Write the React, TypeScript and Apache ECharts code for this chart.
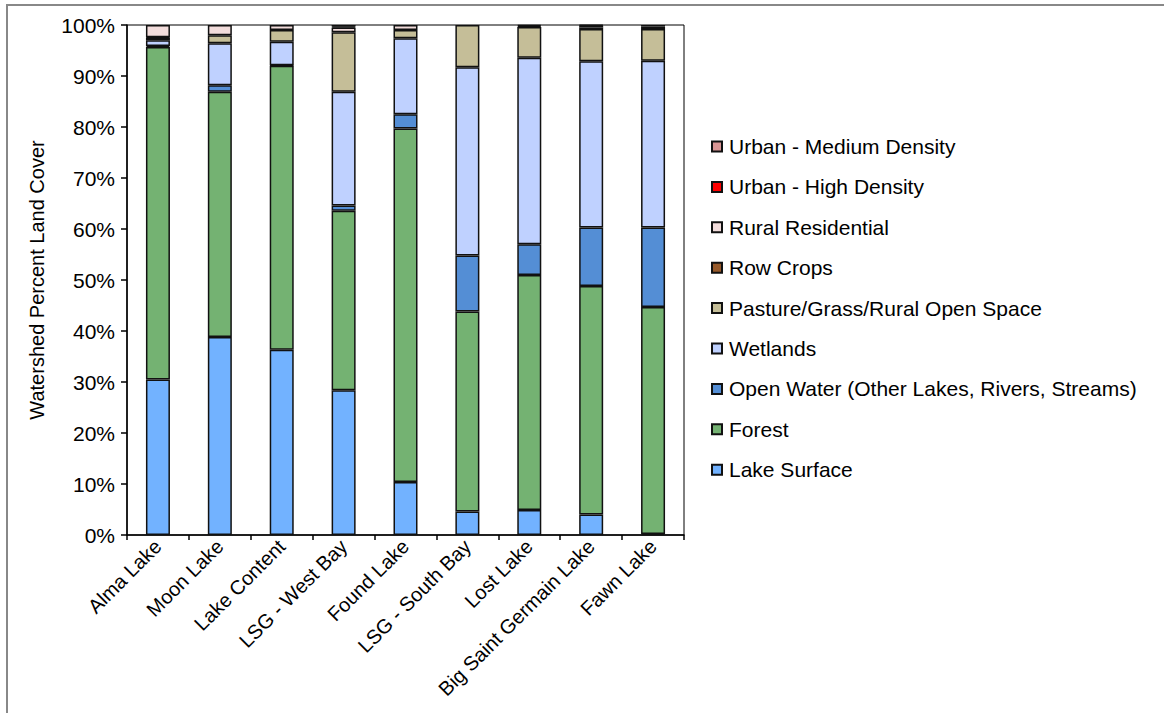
import React, { useEffect, useRef } from "react";
import * as echarts from "echarts";

const categories = [
  "Alma Lake",
  "Moon Lake",
  "Lake Content",
  "LSG - West Bay",
  "Found Lake",
  "LSG - South Bay",
  "Lost Lake",
  "Big Saint Germain Lake",
  "Fawn Lake",
];

const lakeSurface = [30.5, 38.8, 36.3, 28.4, 10.4, 4.6, 4.9, 4.0, 0.2];
const forest = [65.2, 48.1, 55.7, 35.2, 69.3, 39.2, 46.1, 44.8, 44.5];
const openWater = [0.2, 1.3, 0.1, 1.0, 2.8, 11.0, 6.0, 11.5, 15.6];
const wetlands = [1.1, 8.2, 4.6, 22.3, 14.9, 36.9, 36.6, 32.6, 32.7];
const pasture = [0.5, 1.6, 2.3, 11.7, 1.6, 8.3, 6.0, 6.3, 6.2];
const rowCrops = [0.1, 0, 0, 0, 0, 0, 0.2, 0.3, 0];
const ruralResidential = [2.4, 2.0, 1.0, 0.9, 1.0, 0, 0.2, 0.4, 0.5];
const urbanHigh = [0, 0, 0, 0.2, 0, 0, 0, 0.1, 0];
const urbanMedium = [0, 0, 0, 0.3, 0, 0, 0, 0, 0.3];

const yTicks = [0, 10, 20, 30, 40, 50, 60, 70, 80, 90, 100];

const seriesDefs = [
  { name: "Lake Surface", data: lakeSurface, color: "#72B2FF" },
  { name: "Forest", data: forest, color: "#74B272" },
  { name: "Open Water (Other Lakes, Rivers, Streams)", data: openWater, color: "#548ED5" },
  { name: "Wetlands", data: wetlands, color: "#BFD1FF" },
  { name: "Pasture/Grass/Rural Open Space", data: pasture, color: "#C5BE98" },
  { name: "Row Crops", data: rowCrops, color: "#96592A" },
  { name: "Rural Residential", data: ruralResidential, color: "#F2DCDB" },
  { name: "Urban - High Density", data: urbanHigh, color: "#FF0000" },
  { name: "Urban - Medium Density", data: urbanMedium, color: "#D99594" },
];

const FONT = "'Liberation Sans', Arial, sans-serif";

export default function App() {
  const ref = useRef<HTMLDivElement>(null);
  useEffect(() => {
    if (!ref.current) return;
    const chart = echarts.init(ref.current, undefined, { renderer: "svg" });
    chart.setOption({
      animation: false,
      backgroundColor: "#ffffff",
      textStyle: { fontFamily: FONT, color: "#000" },
      graphic: [
        {
          type: "rect",
          shape: { x: 7, y: 5, width: 1200, height: 800 },
          style: { fill: "none", stroke: "#888888", lineWidth: 2 },
          silent: true,
        },
      ],
      grid: {
        left: 127,
        top: 25,
        width: 557,
        height: 510,
        show: true,
        borderColor: "#000",
        borderWidth: 1,
        backgroundColor: "transparent",
      },
      legend: {
        orient: "vertical",
        left: 706,
        top: 131,
        icon: "rect",
        itemWidth: 10,
        itemHeight: 10,
        itemGap: 19.4,
        data: seriesDefs.map((s) => s.name).reverse(),
        textStyle: { fontFamily: FONT, fontSize: 21, color: "#000", lineHeight: 20, padding: [0, 0, 0, 2] },
        selectedMode: false,
      },
      xAxis: {
        type: "category",
        data: categories,
        axisLine: { lineStyle: { color: "#000", width: 1.5 } },
        axisTick: { show: true, length: 5, lineStyle: { color: "#000", width: 1.5 } },
        axisLabel: {
          rotate: 45,
          interval: 0,
          fontFamily: FONT,
          fontSize: 20,
          color: "#000",
          margin: 8,
        },
      },
      yAxis: {
        type: "value",
        min: yTicks[0],
        max: yTicks[yTicks.length - 1],
        interval: 10,
        name: "Watershed Percent Land Cover",
        nameLocation: "middle",
        nameGap: 80,
        nameTextStyle: { fontFamily: FONT, fontSize: 20, color: "#000" },
        splitLine: { show: false },
        axisLine: { show: true, lineStyle: { color: "#000", width: 1.5 } },
        axisTick: { show: true, length: 6, inside: false, lineStyle: { color: "#000", width: 1.5 } },
        axisLabel: {
          formatter: "{value}%",
          fontFamily: FONT,
          fontSize: 21,
          color: "#000",
          margin: 12,
        },
      },
      series: seriesDefs.map((s) => ({
        name: s.name,
        type: "bar",
        stack: "total",
        barWidth: 24,
        data: s.data.map((v) => (v === 0 ? "-" : v)),
        itemStyle: { color: s.color, borderColor: "#111", borderWidth: 1.5 },
        emphasis: { disabled: true },
      })),
    });
    return () => chart.dispose();
  }, []);
  return (
    <div
      ref={ref}
      style={{ position: "absolute", left: 0, top: 0, width: 1164, height: 713 }}
    />
  );
}
